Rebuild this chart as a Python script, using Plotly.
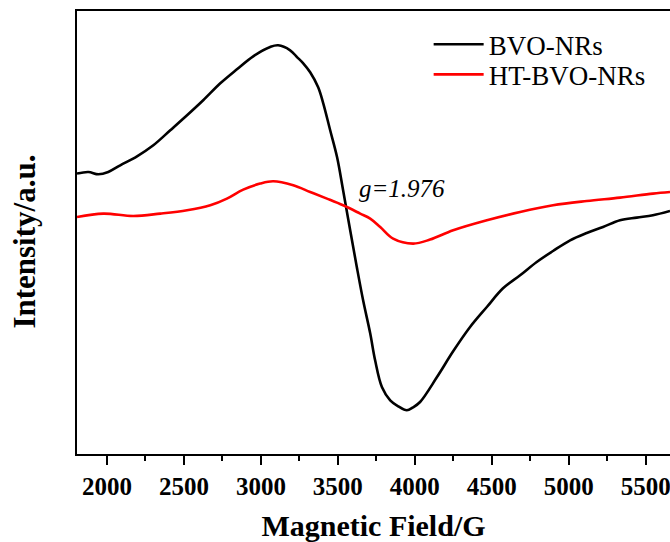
import plotly.graph_objects as go

# EPR spectra (first-derivative signal, arbitrary units)
field_bvo = [1805, 1879, 1944, 2008, 2086, 2195, 2301, 2411, 2520, 2625,
             2736, 2844, 2950, 3060, 3112, 3190, 3236, 3275, 3320, 3372,
             3405, 3450, 3495, 3534, 3580, 3623, 3664, 3710, 3742, 3786,
             3840, 3892, 3948, 3989, 4034, 4143, 4249, 4359, 4468, 4573,
             4684, 4792, 4898, 5009, 5117, 5223, 5333, 5442, 5547, 5658]
intensity_bvo = [41.7, 43.3, 41, 43.3, 50, 59, 70, 85, 100, 115,
                 132, 146, 159, 168.3, 170, 165, 158, 152, 143, 128,
                 112, 85, 58, 25, -15, -51.7, -85, -118, -145, -171.7,
                 -185, -191, -195, -192, -186.7, -162, -136, -111.7, -91.7, -73,
                 -60, -46.7, -35.7, -25, -17.7, -11.7, -5, -2.3, 0, 4.3]

field_ht = [1805, 1976, 2171, 2346, 2520, 2671, 2779, 2885, 2995, 3080,
            3210, 3320, 3429, 3534, 3645, 3710, 3775, 3859, 3989, 4099,
            4249, 4468, 4684, 4898, 5117, 5333, 5547, 5658]
intensity_ht = [-1.7, 1.7, -0.7, 1.7, 5, 10, 16.7, 25.7, 31.7, 34,
                30, 23.3, 16.7, 10, 1.7, -3.3, -11.7, -23.3, -28.3, -24.3,
                -15, -5, 3.3, 10, 14.3, 17.7, 21.7, 23.3]

series_names = ["BVO-NRs", "HT-BVO-NRs"]
g_label = "g=1.976"
g_field = 3622
g_intensity = 27

x_range = [1805, 5658]
y_range = [-238.7, 204.3]
x_ticks = [2000, 2500, 3000, 3500, 4000, 4500, 5000, 5500]

FONT = "Liberation Serif, Times New Roman, serif"

fig = go.Figure()
fig.add_trace(go.Scatter(x=field_bvo, y=intensity_bvo, mode="lines",
                         name=series_names[0], legend="legend",
                         line=dict(color="black", width=2.6, shape="spline", smoothing=1.0)))
fig.add_trace(go.Scatter(x=field_ht, y=intensity_ht, mode="lines",
                         name=series_names[1], legend="legend2",
                         line=dict(color="#ff0000", width=2.6, shape="spline", smoothing=1.0)))

fig.add_annotation(x=g_field, y=g_intensity, xref="x", yref="y",
                   text="<i>" + g_label + "</i>", showarrow=False,
                   xanchor="left", yanchor="middle",
                   font=dict(family=FONT, size=25, color="black"))

# Vertical axis title placed on the paper
fig.add_annotation(x=-0.089, y=0.48, xref="paper", yref="paper",
                   text="<b>Intensity/a.u.</b>", showarrow=False, textangle=-90,
                   xanchor="center", yanchor="middle",
                   font=dict(family=FONT, size=31, color="black"))

legend_style = dict(xanchor="left", yanchor="middle",
                    bgcolor="rgba(0,0,0,0)", borderwidth=0,
                    font=dict(family=FONT, size=27, color="black"),
                    itemwidth=50)

fig.update_layout(
    width=670, height=542,
    margin=dict(l=77, r=0, t=11, b=88),
    paper_bgcolor="white", plot_bgcolor="white",
    font=dict(family=FONT, color="black"),
    showlegend=True,
    legend=dict(x=0.593, y=0.924, **legend_style),
    legend2=dict(x=0.593, y=0.856, **legend_style),
    xaxis=dict(range=x_range, tickvals=x_ticks, ticks="outside", ticklen=9,
               tickwidth=1.5, tickcolor="black", ticklabeloverflow="allow",
               minor=dict(dtick=250, tick0=2000, ticks="outside", ticklen=5,
                          tickwidth=1.5, tickcolor="black"),
               showline=True, linecolor="black", linewidth=1.6, mirror=True,
               showgrid=False, zeroline=False,
               tickfont=dict(family=FONT, size=25, color="black", weight="bold"),
               title=dict(text="<b>Magnetic Field/G</b>", standoff=18,
                          font=dict(family=FONT, size=30, color="black"))),
    yaxis=dict(range=y_range, showticklabels=False, ticks="",
               showline=True, linecolor="black", linewidth=1.6, mirror=False,
               showgrid=False, zeroline=False),
)

fig.write_html("out.html")
